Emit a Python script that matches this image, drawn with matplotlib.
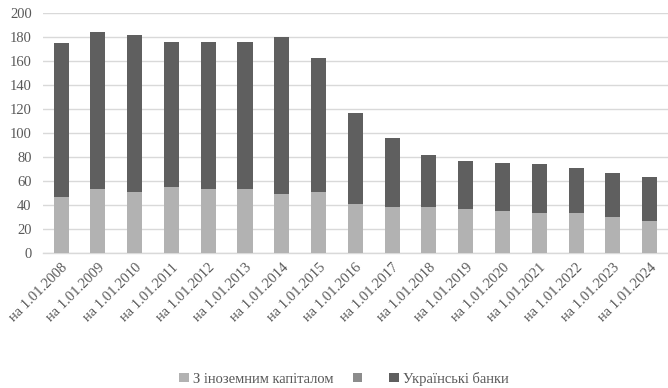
import matplotlib
matplotlib.use("Agg")
import matplotlib.pyplot as plt
import numpy as np

dates = ["на 1.01.2008", "на 1.01.2009", "на 1.01.2010", "на 1.01.2011",
         "на 1.01.2012", "на 1.01.2013", "на 1.01.2014", "на 1.01.2015",
         "на 1.01.2016", "на 1.01.2017", "на 1.01.2018", "на 1.01.2019",
         "на 1.01.2020", "на 1.01.2021", "на 1.01.2022", "на 1.01.2023",
         "на 1.01.2024"]
foreign = [47, 53, 51, 55, 53, 53, 49, 51, 41, 38, 38, 37, 35, 33, 33, 30, 27]
total = [175, 184, 182, 176, 176, 176, 180, 163, 117, 96, 82, 77, 75, 74, 71, 67, 63]
ukrainian = [t - f for t, f in zip(total, foreign)]
extra = [0] * len(dates)

labels = ["З іноземним капіталом", " ", "Українські банки"]
colors = ["#b2b2b2", "#8c8c8c", "#5f5f5f"]
yticks = list(range(0, 201, 20))

plt.rcParams["font.family"] = ["Liberation Serif", "DejaVu Serif"]
text_color = "#595959"

fig = plt.figure(figsize=(6.68, 3.88), dpi=100)
ax = fig.add_axes([0.064, 0.348, 0.936, 0.618])

x = np.arange(len(dates))
w = 0.41
ax.bar(x, foreign, w, color=colors[0], label=labels[0], zorder=3)
ax.bar(x, extra, w, bottom=foreign, color=colors[1], label=labels[1], zorder=3)
ax.bar(x, ukrainian, w, bottom=foreign, color=colors[2], label=labels[2], zorder=3)

ax.set_xlim(-0.5, len(dates) - 0.5)
ax.set_ylim(0, 200)
ax.set_yticks(yticks)
ax.yaxis.grid(True, color="#d9d9d9", linewidth=1, zorder=0)
ax.set_axisbelow(True)
for s in ["top", "right", "left"]:
    ax.spines[s].set_visible(False)
ax.spines["bottom"].set_color("#d9d9d9")
ax.spines["bottom"].set_linewidth(1)
ax.tick_params(axis="both", length=0, colors=text_color, labelsize=10.5)
ax.tick_params(axis="y", pad=8)
ax.set_xticks(x)
ax.set_xticklabels(dates, rotation=45, ha="right", va="top",
                   rotation_mode="anchor")
ax.tick_params(axis="x", pad=6)

leg = fig.legend(loc="lower center", bbox_to_anchor=(0.515, -0.028), ncol=3,
                 frameon=False, fontsize=10.5, handlelength=0.65,
                 handleheight=0.65, handletextpad=0.3, columnspacing=1.3)
for t in leg.get_texts():
    t.set_color(text_color)

fig.savefig("out.png", dpi=100)
